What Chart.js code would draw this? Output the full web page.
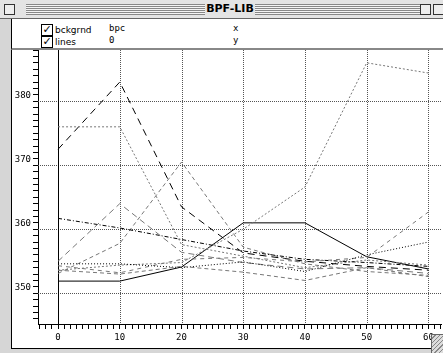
<!DOCTYPE html>
<html>
<head>
<meta charset="utf-8">
<script src="https://cdn.jsdelivr.net/npm/chart.js@4"></script>
<style>
  html, body { margin: 0; padding: 0; }
  body { width: 443px; height: 353px; overflow: hidden; position: relative; background: #d6d6d6; font-family: "DejaVu Sans", sans-serif; }
  #titlebar { position: absolute; left: 0; top: 0; width: 443px; height: 18px; background: #e4e4e4; border-bottom: 1px solid #666; }
  #stripes { position: absolute; left: 26px; top: 4px; width: 395px; height: 11px;
    background: repeating-linear-gradient(to bottom, #888 0px, #888 1px, #f4f4f4 1px, #f4f4f4 2px); }
  #title { position: absolute; left: 205px; top: 1px; width: 50px; height: 16px; background: #e4e4e4; text-align: center;
    font: bold 11px "DejaVu Sans", sans-serif; line-height: 16px; }
  .box { position: absolute; width: 9px; height: 9px; border: 1px solid #333; background: #eee; }
  #header { position: absolute; left: 11px; top: 19px; width: 432px; height: 29px; background: #fff; border-left: 1px solid #000; border-bottom: 2px solid #888; }
  .txt { position: absolute; font: 9px "DejaVu Sans Mono", monospace; line-height: 10px; color: #000; }
  .lbl { position: absolute; font: 9px "DejaVu Sans", sans-serif; line-height: 10px; color: #000; }
  .chk { position: absolute; width: 10px; height: 10px; border: 1px solid #000; background: #fff; font: bold 11px "DejaVu Sans", sans-serif; line-height: 10px; text-align: center; }
  #plot { position: absolute; left: 11px; top: 50px; width: 432px; height: 298px; background: #fff; border-left: 1px solid #000; border-bottom: 1px solid #000; }
  canvas { position: absolute; left: 0; top: 0; }
  #grow { position: absolute; left: 431px; top: 334px; width: 12px; height: 19px; background: #ddd; border-left: 1px solid #666; border-top: 1px solid #666;
    background-image: repeating-linear-gradient(135deg, #ddd 0px, #ddd 2px, #888 2px, #888 3px); }
</style>
</head>
<body>
<div id="titlebar">
  <div id="stripes"></div>
  <div id="title">BPF-LIB</div>
  <div class="box" style="left:4px; top:4px;"></div>
  <div class="box" style="left:420px; top:4px;"></div>
  <div class="box" style="left:433px; top:4px;"></div>
</div>
<div id="header">
  <div class="chk" style="left:29px; top:5px;">✓</div>
  <div class="lbl" style="left:43px; top:6px;">bckgrnd</div>
  <div class="chk" style="left:29px; top:17px;">✓</div>
  <div class="lbl" style="left:43px; top:18px;">lines</div>
  <div class="txt" style="left:97px; top:4px;">bpc</div>
  <div class="txt" style="left:97px; top:16px;">0</div>
  <div class="txt" style="left:221px; top:4px;">x</div>
  <div class="txt" style="left:221px; top:16px;">y</div>
</div>
<div id="plot"><canvas id="grafica" width="430" height="298"></canvas></div>
<div id="grow"></div>

<script>
// puntos de la bpf (x cada 10)
const xValues = [0, 10, 20, 30, 40, 50, 60];

const lineaSolida   = [351.9, 351.9, 354.1, 361.0, 361.0, 355.7, 353.8];
const lineaLarga    = [372.5, 383.0, 363.5, 356.3, 355.0, 354.2, 353.6];
const lineaPuntos   = [376.0, 376.0, 357.6, 355.8, 354.0, 355.2, 354.4];
const lineaGuiones  = [353.1, 357.8, 370.5, 357.2, 354.6, 353.4, 352.8];
const lineaMixta    = [361.7, 360.2, 358.4, 356.6, 355.3, 354.8, 354.2];
const lineaPico     = [355.0, 364.0, 356.4, 354.8, 353.8, 354.0, 353.1];
const lineaSube     = [353.6, 354.4, 354.8, 360.0, 366.6, 386.0, 384.4];
const lineaFinal    = [354.3, 353.2, 355.3, 355.6, 354.9, 355.6, 362.7];
const lineaNegra    = [354.6, 354.6, 354.0, 354.9, 353.4, 356.0, 358.0];
const lineaBaja     = [353.6, 353.0, 354.2, 353.3, 352.0, 354.0, 352.6];

// ticks
const xTicks = [];
for (let i = -3; i <= 62; i++) xTicks.push(i);
const yTicks = [];
for (let i = 346; i <= 388; i++) yTicks.push(i);
const xLabelTicks = [0, 10, 20, 30, 40, 50, 60];
const yLabelTicks = [350, 360, 370, 380];

const X_MIN = -3.25, X_MAX = 62.2, Y_MIN = 345.2, Y_MAX = 388.0;

function serie(valores, color, dash) {
    return {
        data: xValues.map((x, i) => ({ x: x, y: valores[i] })),
        borderColor: color,
        borderDash: dash,
        borderWidth: 1,
        pointRadius: 0,
        tension: 0,
        fill: false
    };
}

// rejilla punteada propia (linea solida en x = 0)
const rejilla = {
    id: 'rejilla',
    beforeDatasetsDraw(chart) {
        const { ctx, chartArea, scales } = chart;
        ctx.save();
        ctx.lineWidth = 1;
        ctx.strokeStyle = '#555';
        ctx.setLineDash([1, 1]);
        xLabelTicks.forEach(v => {
            if (v === 0) return;
            const px = Math.round(scales.x.getPixelForValue(v)) + 0.5;
            ctx.beginPath();
            ctx.moveTo(px, chartArea.top);
            ctx.lineTo(px, chartArea.bottom);
            ctx.stroke();
        });
        yLabelTicks.forEach(v => {
            const py = Math.round(scales.y.getPixelForValue(v)) + 0.5;
            ctx.beginPath();
            ctx.moveTo(chartArea.left, py);
            ctx.lineTo(chartArea.right + 10, py);
            ctx.stroke();
        });
        ctx.setLineDash([]);
        ctx.strokeStyle = '#000';
        const p0 = Math.round(scales.x.getPixelForValue(0)) + 0.5;
        ctx.beginPath();
        ctx.moveTo(p0, chartArea.top);
        ctx.lineTo(p0, chartArea.bottom);
        ctx.stroke();
        ctx.restore();
    }
};

new Chart(document.getElementById('grafica'), {
    type: 'line',
    data: {
        datasets: [
            serie(lineaBaja, '#777', [4, 3]),
            serie(lineaNegra, '#000', [1, 2]),
            serie(lineaFinal, '#777', [4, 4]),
            serie(lineaSube, '#777', [2, 2]),
            serie(lineaPico, '#777', [6, 4]),
            serie(lineaMixta, '#000', [4, 2, 1, 2]),
            serie(lineaGuiones, '#777', [4, 3]),
            serie(lineaPuntos, '#777', [2, 2]),
            serie(lineaLarga, '#000', [7, 5]),
            serie(lineaSolida, '#000', [])
        ]
    },
    options: {
        responsive: false,
        animation: false,
        layout: { padding: 0 },
        plugins: {
            legend: { display: false },
            tooltip: { enabled: false }
        },
        scales: {
            x: {
                type: 'linear',
                min: X_MIN,
                max: X_MAX,
                afterBuildTicks: s => { s.ticks = xTicks.map(v => ({ value: v })); },
                afterFit: s => { s.height = 24; s.paddingLeft = 0; s.paddingRight = 0; },
                grid: { drawOnChartArea: false, drawTicks: true, tickLength: 5, tickColor: '#000' },
                border: { display: true, color: '#000', width: 1 },
                ticks: {
                    autoSkip: false,
                    maxRotation: 0,
                    padding: 3,
                    color: '#000',
                    font: { family: 'DejaVu Sans Mono', size: 9 },
                    callback: v => xLabelTicks.includes(v) ? String(v) : ''
                }
            },
            y: {
                type: 'linear',
                min: Y_MIN,
                max: Y_MAX,
                afterBuildTicks: s => { s.ticks = yTicks.map(v => ({ value: v })); },
                afterFit: s => { s.width = 26; s.paddingTop = 0; s.paddingBottom = 0; },
                grid: { drawOnChartArea: false, drawTicks: true, tickLength: 5, tickColor: '#000' },
                border: { display: true, color: '#000', width: 1 },
                ticks: {
                    autoSkip: false,
                    padding: 2,
                    labelOffset: -6,
                    color: '#000',
                    font: { family: 'DejaVu Sans Mono', size: 9 },
                    callback: v => yLabelTicks.includes(v) ? String(v) : ''
                }
            }
        }
    },
    plugins: [rejilla]
});
</script>
</body>
</html>
